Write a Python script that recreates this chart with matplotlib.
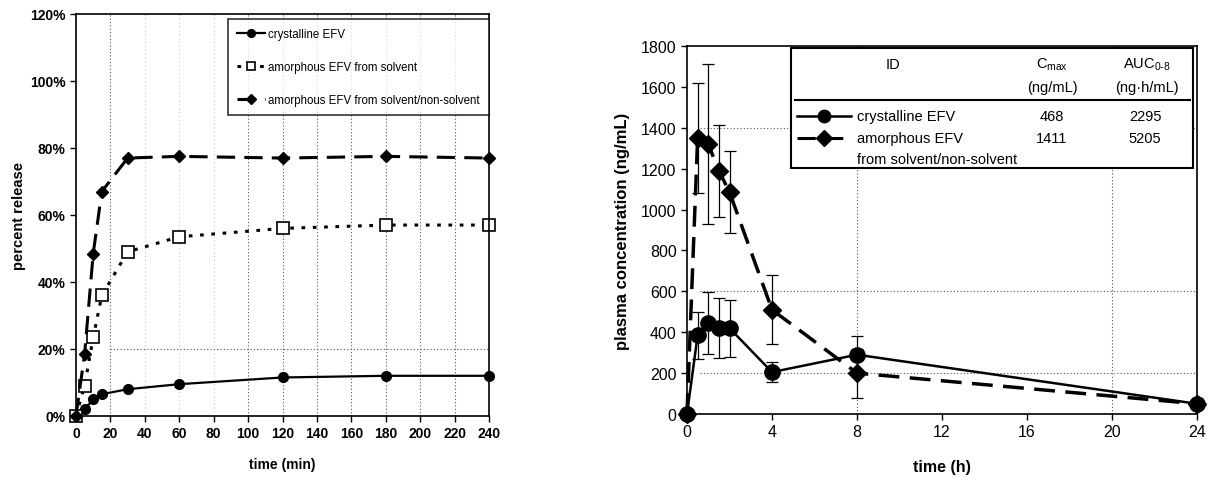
import matplotlib.pyplot as plt
from matplotlib.lines import Line2D
from matplotlib.patches import Rectangle
from matplotlib.ticker import FuncFormatter

plt.rcParams['font.family'] = ['Liberation Sans', 'DejaVu Sans']
plt.rcParams['mathtext.default'] = 'regular'

# --- dissolution data (left panel) ---
t_min = [0, 5, 10, 15, 30, 60, 120, 180, 240]
rel_cryst = [0, 2, 5, 6.5, 8, 9.5, 11.5, 12, 12]
rel_amorph_solv = [0, 9, 23.5, 36, 49, 53.5, 56, 57, 57]
rel_amorph_nonsolv = [0, 18.5, 48.5, 67, 77, 77.5, 77, 77.5, 77]

# --- plasma data (right panel) ---
t_h = [0, 0.5, 1, 1.5, 2, 4, 8, 24]
conc_cryst = [0, 385, 445, 420, 420, 205, 290, 50]
err_cryst = [0, 115, 150, 145, 140, 50, 90, 15]
conc_amorph = [0, 1350, 1320, 1190, 1085, 510, 200, 50]
err_amorph = [0, 270, 390, 225, 200, 170, 120, 20]

table_ids = ['crystalline EFV', 'amorphous EFV']
table_cmax = ['468', '1411']
table_auc = ['2295', '5205']

W, H = 1211, 489


def fx(px):
    return px / W


def fy(py):
    return 1 - py / H


fig = plt.figure(figsize=(12.11, 4.89), dpi=100)

# ---------------- left panel ----------------
ax1 = fig.add_axes([fx(76), fy(417), (489 - 76) / W, (417 - 15) / H])
grid = dict(color='#555555', linestyle=(0, (1, 2)), linewidth=0.8, zorder=0)
for g in [20, 100, 120, 140, 160, 180, 200, 220]:
    ax1.axvline(g, **grid)
for g in [40, 60, 80]:
    ax1.axvline(g, color='#bbbbbb', linestyle=(0, (1, 3)), linewidth=0.7, zorder=0)
ax1.axhline(20, xmin=20 / 240, **grid)

ax1.plot(t_min, rel_cryst, color='black', lw=1.6, marker='o', ms=7,
         label='crystalline EFV', clip_on=False)
ax1.plot(t_min, rel_amorph_solv, color='black', lw=2.2, linestyle=(0, (1.2, 2.5)),
         marker='s', ms=8, mfc='white', mec='black', mew=1.2,
         label='amorphous EFV from solvent', clip_on=False)
ax1.plot(t_min, rel_amorph_nonsolv, color='black', lw=2.2, linestyle=(0, (6, 3)),
         marker='D', ms=6, label='amorphous EFV from solvent/non-solvent', clip_on=False)

ax1.set_xlim(0, 240)
ax1.set_ylim(0, 120)
ax1.set_xticks(range(0, 241, 20))
ax1.set_yticks(range(0, 121, 20))
ax1.yaxis.set_major_formatter(FuncFormatter(lambda v, p: '%d%%' % v))
ax1.tick_params(direction='out', length=4, width=1, labelsize=10)
for lab in ax1.get_xticklabels() + ax1.get_yticklabels():
    lab.set_fontweight('bold')
for s in ax1.spines.values():
    s.set_linewidth(1.2)
ax1.set_xlabel('time (min)', fontsize=10, fontweight='bold', labelpad=12)
ax1.set_ylabel('percent release', fontsize=10.5, fontweight='bold', labelpad=3)

leg = ax1.legend(loc='upper right', bbox_to_anchor=(1.0, 0.988), borderaxespad=0,
                 fontsize=8.3, frameon=True, fancybox=False, edgecolor='black',
                 labelspacing=1.8, handlelength=2.4, borderpad=0.8,
                 handletextpad=0.3, markerscale=0.8)
leg.get_frame().set_linewidth(1.2)

# ---------------- right panel ----------------
ax2 = fig.add_axes([fx(687), fy(415), (1197 - 687) / W, (415 - 47) / H])
for g in [200, 600, 1400]:
    ax2.axhline(g, xmin=0.6 / 24, **grid)
for g in [8, 20]:
    ax2.axvline(g, **grid)

ax2.errorbar(t_h, conc_cryst, yerr=err_cryst, color='black', lw=1.8,
             marker='o', ms=11, ecolor='black', elinewidth=0.9, capsize=4,
             capthick=0.9, clip_on=False, zorder=3)
ax2.errorbar(t_h, conc_amorph, yerr=err_amorph, color='black', lw=2.5,
             linestyle=(0, (6, 3)), marker='D', ms=9, ecolor='black',
             elinewidth=0.9, capsize=4, capthick=0.9, clip_on=False, zorder=3)

ax2.set_xlim(0, 24)
ax2.set_ylim(0, 1800)
ax2.set_xticks(range(0, 25, 4))
ax2.set_yticks(range(0, 1801, 200))
ax2.tick_params(direction='out', length=4, width=1, labelsize=11.5)
for s in ax2.spines.values():
    s.set_linewidth(1.2)
ax2.set_xlabel('time (h)', fontsize=11.5, fontweight='bold', labelpad=14)
ax2.set_ylabel('plasma concentration (ng/mL)', fontsize=12, fontweight='bold', labelpad=8)

# table-like legend drawn in figure pixels
box = Rectangle((fx(791), fy(169)), (1193 - 791) / W, (169 - 49) / H,
                transform=fig.transFigure, facecolor='white', edgecolor='black',
                linewidth=1.5, zorder=5)
fig.add_artist(box)
fig.add_artist(Line2D([fx(795), fx(1190)], [fy(101), fy(101)],
                      transform=fig.transFigure, color='black', lw=1.5, zorder=6))

tk = dict(fontsize=10.5, zorder=7, va='center')
fig.text(fx(893), fy(65), 'ID', ha='center', **tk)
fig.text(fx(1052), fy(65), 'C$_{max}$', ha='center', **tk)
fig.text(fx(1052), fy(88), '(ng/mL)', ha='center', **tk)
fig.text(fx(1147), fy(65), r'AUC$_{0\text{-}8}$', ha='center', **tk)
fig.text(fx(1147), fy(88), '(ng·h/mL)', ha='center', **tk)

row_y = [117, 139]
styles = [dict(ls='-', marker='o', ms=9, lw=1.8),
          dict(ls=(0, (6, 3)), marker='D', ms=8, lw=2.2)]
for i in range(2):
    fig.add_artist(Line2D([fx(797), fx(851)], [fy(row_y[i])] * 2,
                          transform=fig.transFigure, color='black', zorder=7,
                          linestyle=styles[i]['ls'], lw=styles[i]['lw']))
    fig.add_artist(Line2D([fx(824)], [fy(row_y[i])], transform=fig.transFigure,
                          color='black', marker=styles[i]['marker'],
                          ms=styles[i]['ms'], zorder=8))
    fig.text(fx(857), fy(row_y[i]), table_ids[i], ha='left', **tk)
    fig.text(fx(1052), fy(row_y[i]), table_cmax[i], ha='center', **tk)
    fig.text(fx(1145), fy(row_y[i]), table_auc[i], ha='center', **tk)
fig.text(fx(857), fy(160), 'from solvent/non-solvent', ha='left', **tk)

fig.savefig('out.png', dpi=100)
